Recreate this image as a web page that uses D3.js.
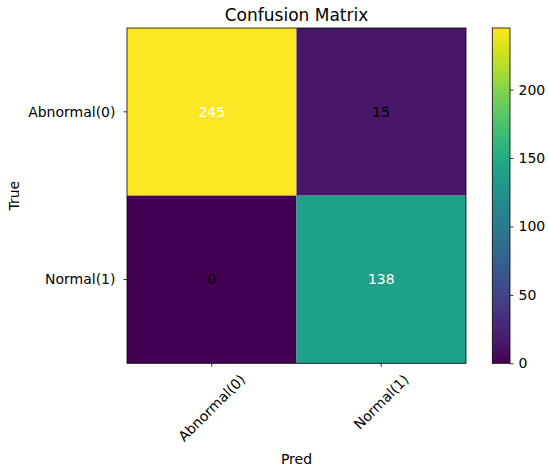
<!DOCTYPE html>
<html><head><meta charset="utf-8">
<script src="https://cdn.jsdelivr.net/npm/d3@7"></script>
<style>
body{margin:0;background:#fff;}
svg{display:block;font-family:"DejaVu Sans",sans-serif;}
</style></head><body>
<svg id="chart" width="550" height="473"></svg>
<script>
const trueLabels = ["Abnormal(0)", "Normal(1)"];
const predLabels = ["Abnormal(0)", "Normal(1)"];
const matrix = [[245, 15], [0, 138]];
const cbTicks = [0, 50, 100, 150, 200];
const title = "Confusion Matrix";
const xTitle = "Pred";
const yTitle = "True";

const svg = d3.select("#chart");
const L = 127, R = 466, T = 28, B = 363.3;
const fs = 14;

const x = d3.scaleBand().domain(predLabels).range([L, R]);
const y = d3.scaleBand().domain(trueLabels).range([T, B]);
const vmax = d3.max(matrix.flat()), vmin = d3.min(matrix.flat());
const color = d3.scaleSequential(d3.interpolateViridis).domain([vmin, vmax]);

const cells = [];
matrix.forEach((row, i) => row.forEach((v, j) => cells.push({t: trueLabels[i], p: predLabels[j], v})));

svg.append("g").selectAll("rect").data(cells).join("rect")
  .attr("x", d => x(d.p)).attr("y", d => y(d.t))
  .attr("width", x.bandwidth()).attr("height", y.bandwidth())
  .attr("fill", d => color(d.v));

const thresh = vmax / 2;
svg.append("g").selectAll("text").data(cells).join("text")
  .attr("x", d => x(d.p) + x.bandwidth() / 2)
  .attr("y", d => y(d.t) + y.bandwidth() / 2 + 5)
  .attr("text-anchor", "middle").attr("font-size", fs)
  .attr("fill", d => d.v > thresh ? "#fff" : "#000")
  .text(d => d.v);

// frame
svg.append("rect").attr("x", L).attr("y", T).attr("width", R - L).attr("height", B - T)
  .attr("fill", "none").attr("stroke", "#000").attr("stroke-width", 0.8);

// y ticks
const gy = svg.append("g");
trueLabels.forEach(lab => {
  const cy = y(lab) + y.bandwidth() / 2;
  gy.append("line").attr("x1", L).attr("x2", L - 3.5).attr("y1", cy).attr("y2", cy)
    .attr("stroke", "#000").attr("stroke-width", 0.8);
  gy.append("text").attr("x", L - 11.5).attr("y", cy + 5).attr("text-anchor", "end")
    .attr("font-size", fs).attr("fill", "#000").text(lab);
});

// x ticks with rotated labels
const gx = svg.append("g");
predLabels.forEach(lab => {
  const cx = x(lab) + x.bandwidth() / 2;
  gx.append("line").attr("x1", cx).attr("x2", cx).attr("y1", B).attr("y2", B + 3.5)
    .attr("stroke", "#000").attr("stroke-width", 0.8);
  const t = gx.append("text").attr("text-anchor", "middle").attr("font-size", fs)
    .attr("fill", "#000").attr("y", 0.346 * fs).text(lab);
  const w = t.node().getComputedTextLength();
  const h = fs * 1.164;
  const size = (w + h) / Math.SQRT2;
  t.attr("transform", `translate(${cx},${B + 8 + size / 2}) rotate(-45)`);
});

// titles
svg.append("text").attr("x", (L + R) / 2).attr("y", 20.5).attr("text-anchor", "middle")
  .attr("font-size", 17).attr("fill", "#000").text(title);
svg.append("text").attr("x", (L + R) / 2).attr("y", 464).attr("text-anchor", "middle")
  .attr("font-size", fs).attr("fill", "#000").text(xTitle);
svg.append("text").attr("transform", `translate(19,${(T + B) / 2}) rotate(-90)`)
  .attr("text-anchor", "middle").attr("font-size", fs).attr("fill", "#000").text(yTitle);

// colorbar
const CL = 492.3, CR = 510;
const cbScale = d3.scaleLinear().domain([vmin, vmax]).range([B, T]);
const defs = svg.append("defs");
const grad = defs.append("linearGradient").attr("id", "cbgrad")
  .attr("x1", 0).attr("y1", 1).attr("x2", 0).attr("y2", 0);
d3.range(0, 1.0001, 0.02).forEach(s => {
  grad.append("stop").attr("offset", s).attr("stop-color", d3.interpolateViridis(s));
});
svg.append("rect").attr("x", CL).attr("y", T).attr("width", CR - CL).attr("height", B - T)
  .attr("fill", "url(#cbgrad)").attr("stroke", "#000").attr("stroke-width", 0.8);
const cbAxis = d3.axisRight(cbScale).tickValues(cbTicks).tickSize(3.5).tickPadding(5);
const ga = svg.append("g").attr("transform", `translate(${CR},0)`).call(cbAxis);
ga.select(".domain").remove();
ga.selectAll("line").attr("stroke-width", 0.8);
ga.selectAll("text").attr("font-size", fs).attr("font-family", "DejaVu Sans").attr("fill", "#000");
</script>
</body></html>
